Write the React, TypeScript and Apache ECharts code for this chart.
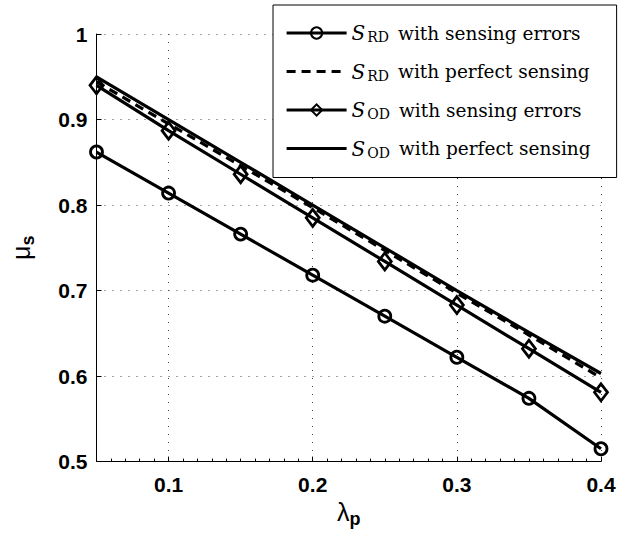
import React, { useEffect, useRef } from 'react';
import * as echarts from 'echarts';

const lambdaP = [0.05, 0.1, 0.15, 0.2, 0.25, 0.3, 0.35, 0.4];
const rdErrors = [0.862, 0.814, 0.766, 0.718, 0.67, 0.622, 0.574, 0.515];
const rdPerfect = [0.944, 0.895, 0.846, 0.797, 0.747, 0.697, 0.648, 0.598];
const odErrors = [0.94, 0.887, 0.836, 0.785, 0.734, 0.683, 0.632, 0.581];
const odPerfect = [0.95, 0.9, 0.85, 0.8, 0.75, 0.7, 0.651, 0.603];

const seriesNames = [
  'S_RD with sensing errors',
  'S_RD with perfect sensing',
  'S_OD with sensing errors',
  'S_OD with perfect sensing',
];
const legendLabels: Record<string, [string, string]> = {
  'S_RD with sensing errors': ['RD', 'with sensing errors'],
  'S_RD with perfect sensing': ['RD', 'with perfect sensing'],
  'S_OD with sensing errors': ['OD', 'with sensing errors'],
  'S_OD with perfect sensing': ['OD', 'with perfect sensing'],
};

const pairs = (ys: number[]) => lambdaP.map((x, i) => [x, ys[i]]);

export default function App() {
  const ref = useRef<HTMLDivElement>(null);
  useEffect(() => {
    if (!ref.current) return;
    const chart = echarts.init(ref.current, null, { renderer: 'svg' });
    const axisFont = { fontFamily: 'Liberation Sans', fontWeight: 'bold' as const, fontSize: 21, color: '#000' };
    const base = {
      type: 'line' as const,
      lineStyle: { color: '#000', width: 3.2 },
      itemStyle: { color: 'rgba(0,0,0,0)', borderColor: '#000', borderWidth: 2.8 },
      emphasis: { disabled: true },
    };
    const hiddenSym = { color: 'rgba(0,0,0,0)', borderColor: 'rgba(0,0,0,0)', borderWidth: 0 };
    chart.setOption({
      animation: false,
      backgroundColor: '#fff',
      grid: { left: 91, right: 27, top: 34, bottom: 71 },
      xAxis: {
        type: 'value',
        min: 0.05,
        max: 0.4,
        splitNumber: 4,
        axisLine: { show: true, onZero: false, lineStyle: { color: '#000', width: 1 } },
        axisTick: { show: true, inside: true, length: 5, lineStyle: { color: '#000' } },
        minorTick: { show: true, splitNumber: 10, length: 3, lineStyle: { color: '#000' } },
        axisLabel: {
          ...axisFont,
          margin: 12,
          showMinLabel: false,
          formatter: (v: number) => v.toFixed(1),
        },
        splitLine: { show: true, lineStyle: { color: '#444', width: 1, type: [1, 7] } },
        name: '{l|λ}{p|p}',
        nameLocation: 'middle',
        nameGap: 30,
        nameTextStyle: {
          rich: {
            l: { fontFamily: 'Liberation Sans', fontSize: 25, color: '#000' },
            p: { fontFamily: 'Liberation Sans', fontWeight: 'bold', fontSize: 18, color: '#000', padding: [14, 0, 0, 0] },
          },
        },
      },
      yAxis: {
        type: 'value',
        min: 0.5,
        max: 1,
        interval: 0.1,
        axisLine: { show: true, onZero: false, lineStyle: { color: '#000', width: 1 } },
        axisTick: { show: true, inside: true, length: 5, lineStyle: { color: '#000' } },
        axisLabel: {
          ...axisFont,
          margin: 9,
          formatter: (v: number) => String(+v.toFixed(1)),
        },
        splitLine: { show: true, lineStyle: { color: '#444', width: 1, type: [1, 7] } },
        name: '{l|μ}{s|s}',
        nameLocation: 'middle',
        nameGap: 60,
        nameRotate: 90,
        nameTextStyle: {
          rich: {
            l: { fontFamily: 'Liberation Sans', fontSize: 25, color: '#000' },
            s: { fontFamily: 'Liberation Sans', fontWeight: 'bold', fontSize: 18, color: '#000', padding: [14, 0, 0, 0] },
          },
        },
      },
      legend: {
        orient: 'vertical',
        left: 273,
        top: 5,
        backgroundColor: '#fff',
        borderColor: '#000',
        borderWidth: 1,
        padding: [17, 26, 18, 12],
        itemGap: 16.5,
        itemWidth: 60,
        itemHeight: 14,
        data: [
          { name: seriesNames[0], lineStyle: { width: 3.2 } },
          { name: seriesNames[1], lineStyle: { width: 3.2 }, itemStyle: hiddenSym },
          { name: seriesNames[2], lineStyle: { width: 3.2 } },
          { name: seriesNames[3], lineStyle: { width: 3.2 }, itemStyle: hiddenSym },
        ],
        formatter: (name: string) => {
          const [sub, rest] = legendLabels[name];
          return `{s|S}{sub|${sub}}{t|${rest}}`;
        },
        textStyle: {
          rich: {
            s: { fontFamily: 'DejaVu Serif', fontStyle: 'italic', fontSize: 20, color: '#000', lineHeight: 22 },
            sub: { fontFamily: 'DejaVu Serif', fontSize: 14, color: '#000', lineHeight: 22, padding: [8, 0, 0, 2] },
            t: { fontFamily: 'DejaVu Serif', fontSize: 18.5, color: '#000', lineHeight: 22, padding: [0, 0, 0, 9] },
          },
        },
      },
      series: [
        { ...base, name: seriesNames[0], data: pairs(rdErrors), symbol: 'circle', symbolSize: 12, z: 3 },
        {
          ...base,
          name: seriesNames[1],
          data: pairs(rdPerfect),
          symbol: 'none',
          lineStyle: { color: '#000', width: 3.2, type: [9, 6] },
          z: 2,
        },
        { ...base, name: seriesNames[2], data: pairs(odErrors), symbol: 'diamond', symbolSize: [13, 17], z: 3 },
        { ...base, name: seriesNames[3], data: pairs(odPerfect), symbol: 'none', z: 2 },
      ],
    });
    return () => chart.dispose();
  }, []);
  return <div ref={ref} style={{ width: 628, height: 533, position: 'absolute', left: 0, top: 0 }} />;
}
